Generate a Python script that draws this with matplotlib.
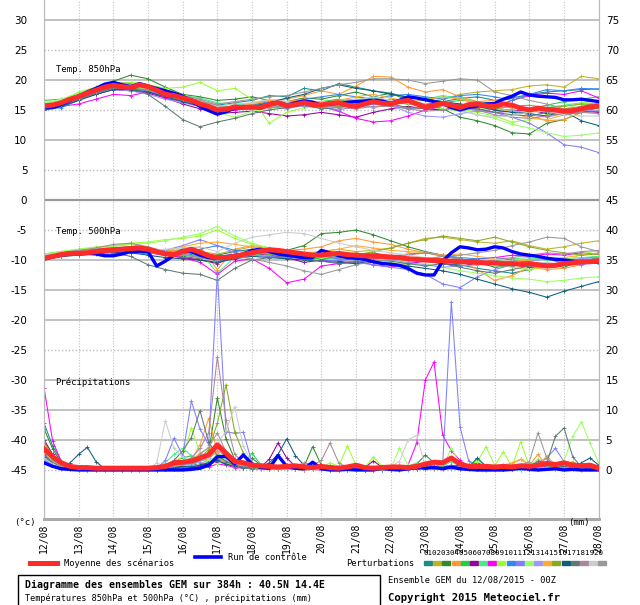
import matplotlib
matplotlib.use("Agg")
import matplotlib.pyplot as plt
from matplotlib.patches import Rectangle
from matplotlib.lines import Line2D
import numpy as np

# -------------------------
# Data (GEM ensemble, 12/08/2015 00Z, 40.5N 14.4E)
# -------------------------
dates = ["12/08", "13/08", "14/08", "15/08", "16/08", "17/08", "18/08", "19/08", "20/08",
         "21/08", "22/08", "23/08", "24/08", "25/08", "26/08", "27/08", "28/08"]
hours6 = np.arange(0, 385, 6)     # mean / control / precip members
hours12 = np.arange(0, 385, 12)   # temperature members

pert_colors = ["#178c8c", "#bdb32a", "#2e8b2e", "#ff9933", "#22cc44", "#990099", "#44ee88",
               "#ff00ff", "#99ff33", "#3388ee", "#7f7fff", "#99ff66", "#9999ff", "#ffaa33",
               "#88aa22", "#0b5e7e", "#607878", "#aa8899", "#cccccc", "#999999"]

# 850 hPa temperature (°C)
t850_mean = [15.7, 15.8, 16.2, 16.8, 17.2, 17.8, 18.3, 18.8, 19.1, 18.9, 18.7, 19.2,
             18.9, 18.3, 17.6, 17.4, 17.0, 16.6, 16.0, 15.6, 15.0, 15.1, 15.5, 15.4,
             15.5, 15.4, 15.9, 16.2, 15.7, 15.9, 16.2, 15.9, 15.8, 16.1, 16.2, 15.8,
             15.6, 16.0, 16.4, 16.1, 16.0, 16.4, 16.6, 16.0, 15.5, 15.8, 16.1, 15.8,
             15.4, 15.9, 16.0, 15.7, 15.6, 16.0, 15.8, 15.3, 15.0, 15.3, 15.1, 15.0,
             14.8, 14.9, 15.2, 15.5, 15.7]
t850_ctrl = [15.5, 15.4, 15.9, 16.6, 17.3, 18.0, 18.6, 19.3, 19.6, 19.2, 18.9, 19.4,
             19.0, 18.6, 18.2, 17.8, 17.3, 16.5, 15.6, 14.9, 14.3, 14.7, 15.3, 15.6,
             15.5, 15.3, 16.0, 16.3, 15.8, 16.2, 16.5, 16.3, 15.8, 16.0, 16.1, 16.3,
             16.4, 16.5, 16.6, 16.5, 16.1, 16.6, 17.2, 17.0, 16.7, 16.4, 16.1, 15.4,
             15.0, 15.4, 15.7, 16.0, 16.1, 16.8, 17.3, 18.0, 17.5, 17.3, 17.2, 17.1,
             16.7, 16.7, 16.8, 16.6, 16.4]
t850_pert = [
    [15.2, 15.8, 17.0, 18.0, 18.8, 18.6, 18.4, 17.6, 16.8, 16.4, 15.8, 16.2, 16.6, 17.4, 17.2, 18.6, 18.2,
     19.4, 18.8, 18.2, 17.8, 17.0, 16.8, 16.4, 16.9, 17.2, 16.6, 17.0, 17.6, 18.0, 18.2, 18.4, 18.5],
    [15.8, 16.4, 17.4, 18.2, 18.8, 18.4, 18.0, 17.2, 16.4, 15.8, 15.2, 15.6, 15.8, 16.2, 16.0, 16.4, 16.2,
     16.6, 16.8, 16.2, 16.4, 16.8, 17.0, 16.8, 17.6, 18.0, 18.2, 18.4, 19.0, 19.2, 18.8, 20.6, 20.2],
    [15.4, 16.2, 17.6, 18.6, 19.8, 20.8, 20.2, 18.8, 17.6, 17.2, 16.6, 16.8, 17.2, 16.6, 16.4, 17.0, 16.8,
     17.4, 18.0, 17.2, 17.8, 16.6, 15.6, 15.2, 13.8, 13.2, 12.4, 11.2, 11.0, 12.8, 13.4, 14.6, 15.4],
    [15.6, 16.4, 17.4, 18.4, 19.2, 19.0, 18.6, 17.8, 17.0, 16.4, 15.6, 15.6, 15.8, 16.6, 16.8, 17.4, 18.2,
     17.6, 19.0, 20.6, 20.5, 18.8, 18.0, 18.4, 17.2, 16.4, 16.6, 15.2, 14.0, 13.2, 13.4, 14.6, 15.8],
    [16.6, 16.8, 17.6, 18.4, 18.8, 18.4, 18.0, 17.4, 16.4, 15.6, 14.8, 15.0, 15.4, 15.8, 15.4, 16.2, 16.4,
     16.8, 15.8, 16.4, 16.8, 16.6, 16.0, 16.2, 16.6, 16.4, 16.0, 15.6, 15.2, 15.8, 16.4, 16.8, 17.2],
    [15.0, 15.6, 16.8, 17.6, 18.4, 18.2, 17.8, 17.0, 16.0, 15.2, 14.4, 14.6, 14.8, 14.4, 14.0, 14.2, 14.6,
     14.2, 13.8, 14.6, 15.2, 15.6, 15.2, 15.0, 15.6, 15.2, 14.6, 14.8, 15.0, 14.4, 14.2, 14.8, 14.6],
    [16.0, 16.6, 17.8, 18.8, 19.4, 19.2, 18.8, 18.0, 17.4, 17.0, 16.2, 15.8, 16.2, 16.6, 16.2, 16.0, 15.4,
     15.8, 16.4, 17.0, 16.6, 16.2, 16.8, 17.4, 17.0, 16.2, 15.4, 14.8, 14.6, 15.4, 15.8, 16.2, 16.0],
    [15.2, 15.6, 16.0, 16.8, 17.6, 17.4, 18.0, 17.0, 16.4, 16.2, 15.6, 15.0, 15.2, 15.8, 16.0, 16.6, 15.6,
     14.8, 13.6, 13.0, 13.2, 14.0, 15.0, 15.6, 16.0, 15.4, 15.6, 16.6, 17.4, 17.8, 17.6, 18.2, 17.0],
    [15.8, 16.6, 18.0, 18.8, 19.4, 19.6, 19.2, 18.6, 18.8, 19.6, 18.2, 18.6, 16.8, 12.8, 14.6, 15.4, 15.8,
     16.2, 16.8, 17.0, 16.4, 16.2, 15.8, 15.6, 15.2, 14.6, 14.0, 13.0, 13.4, 14.2, 15.0, 16.2, 16.6],
    [15.0, 15.4, 16.6, 17.8, 18.6, 18.6, 18.2, 17.4, 16.8, 16.2, 15.4, 15.6, 15.8, 16.4, 16.2, 16.8, 17.2,
     17.6, 17.2, 16.8, 17.4, 17.6, 17.2, 16.8, 17.4, 17.6, 17.2, 16.6, 17.6, 18.4, 18.2, 18.6, 18.5],
    [15.4, 16.2, 17.2, 18.0, 18.6, 18.6, 18.2, 17.2, 16.4, 15.8, 14.6, 15.2, 15.6, 16.0, 15.8, 15.6, 15.4,
     15.0, 15.6, 16.0, 15.8, 15.2, 15.6, 16.0, 15.8, 14.8, 14.6, 13.8, 12.8, 11.2, 9.2, 8.8, 7.9],
    [16.2, 16.8, 17.8, 18.6, 19.4, 19.2, 18.8, 17.8, 17.0, 16.0, 14.6, 13.8, 14.8, 15.2, 15.6, 16.0, 16.4,
     15.8, 15.4, 16.2, 16.6, 16.0, 15.6, 15.2, 14.8, 14.2, 13.6, 12.6, 12.0, 11.2, 10.6, 10.8, 11.2],
    [15.2, 15.8, 16.8, 17.8, 18.4, 18.2, 17.6, 16.8, 16.2, 15.6, 15.0, 15.4, 15.2, 15.6, 15.2, 15.8, 15.4,
     15.6, 16.0, 15.4, 15.8, 14.6, 14.0, 13.8, 14.4, 14.8, 15.2, 15.0, 14.2, 13.8, 14.4, 14.8, 15.0],
    [16.0, 16.4, 17.4, 18.4, 19.0, 19.0, 18.6, 17.8, 17.0, 16.2, 15.4, 15.6, 16.0, 16.6, 16.4, 16.8, 16.2,
     16.6, 17.2, 17.6, 17.0, 16.4, 16.6, 17.2, 16.8, 16.2, 15.6, 14.6, 13.6, 13.4, 14.2, 15.6, 16.2],
    [15.6, 16.2, 17.2, 18.2, 18.8, 18.6, 18.4, 17.6, 16.6, 16.0, 15.4, 15.2, 15.6, 16.0, 15.8, 16.4, 16.0,
     15.6, 15.8, 16.4, 16.2, 16.0, 15.8, 16.2, 16.0, 15.4, 15.2, 15.6, 15.8, 15.4, 15.6, 16.0, 15.8],
    [15.0, 15.6, 16.6, 17.6, 18.4, 18.4, 18.0, 17.2, 16.4, 15.6, 15.0, 15.4, 15.6, 16.2, 17.0, 17.6, 18.6,
     19.2, 18.6, 18.2, 17.6, 17.2, 16.8, 16.4, 16.0, 15.6, 15.0, 14.6, 14.4, 14.0, 14.8, 13.2, 12.4],
    [15.4, 15.8, 16.8, 17.8, 18.6, 18.8, 17.6, 15.6, 13.4, 12.2, 13.0, 13.6, 14.4, 15.0, 15.4, 15.8, 15.2,
     15.4, 16.0, 16.4, 16.0, 15.4, 15.2, 15.6, 15.8, 15.2, 14.6, 14.2, 14.0, 14.6, 14.2, 14.6, 14.8],
    [15.8, 16.4, 17.6, 18.6, 19.6, 19.4, 18.8, 18.0, 17.2, 16.6, 15.8, 15.4, 15.2, 15.4, 15.6, 16.2, 15.8,
     15.4, 15.2, 15.6, 15.6, 15.2, 14.8, 15.0, 15.4, 15.0, 14.2, 13.8, 13.6, 14.0, 14.4, 14.6, 14.4],
    [15.4, 16.0, 17.0, 18.2, 19.0, 19.2, 18.6, 17.8, 16.8, 16.4, 15.6, 16.0, 16.2, 16.8, 16.4, 16.0, 15.6,
     16.2, 16.6, 17.2, 16.6, 16.2, 16.0, 15.6, 15.0, 14.2, 13.8, 14.0, 14.6, 14.8, 14.2, 14.0, 14.0],
    [15.6, 16.2, 17.4, 18.4, 19.2, 19.0, 18.8, 17.8, 17.4, 16.8, 16.0, 16.4, 16.8, 17.2, 17.4, 18.0, 18.6,
     19.2, 19.6, 20.2, 20.2, 20.0, 19.4, 19.8, 20.2, 20.0, 18.0, 17.4, 16.6, 16.0, 15.2, 15.6, 16.0],
]

# 500 hPa temperature (°C)
t500_mean = [-9.7, -9.4, -9.1, -8.9, -8.9, -8.8, -8.6, -8.4, -8.3, -8.2, -8.1, -8.0,
             -8.2, -8.6, -9.0, -9.1, -8.6, -8.2, -8.7, -9.3, -9.6, -9.6, -9.4, -9.1,
             -8.8, -8.5, -8.3, -8.4, -8.6, -8.8, -9.0, -9.2, -9.2, -9.0, -8.9, -9.1,
             -9.2, -9.3, -9.4, -9.4, -9.5, -9.6, -9.8, -9.9, -10.0, -10.1, -10.1, -10.2,
             -10.3, -10.3, -10.4, -10.5, -10.5, -10.6, -10.6, -10.7, -10.6, -10.8, -11.0, -10.9,
             -10.6, -10.5, -10.3, -10.3, -10.1]
t500_ctrl = [-9.8, -9.5, -9.2, -9.0, -9.0, -8.9, -9.0, -9.3, -9.3, -9.0, -8.6, -8.6,
             -8.6, -11.0, -10.2, -9.2, -8.4, -8.6, -9.2, -9.6, -9.7, -9.4, -9.3, -9.0,
             -8.4, -8.2, -8.6, -9.0, -9.2, -9.4, -9.6, -9.6, -8.4, -8.8, -9.3, -9.6,
             -9.7, -9.9, -10.3, -10.6, -10.7, -10.9, -11.4, -12.2, -12.5, -12.5, -10.2, -8.8,
             -7.8, -8.0, -8.3, -8.2, -7.8, -8.0, -8.6, -9.0, -9.2, -9.4, -9.7, -9.9,
             -10.0, -10.2, -10.3, -10.3, -10.3]
t500_pert = [
    [-9.6, -9.0, -8.8, -8.6, -8.2, -7.8, -8.4, -8.6, -8.8, -9.4, -10.2, -9.6, -9.0, -9.4, -9.8, -9.2, -9.0,
     -9.4, -9.2, -8.8, -9.4, -9.8, -10.2, -10.6, -10.8, -11.4, -11.8, -12.2, -11.6, -11.0, -10.4, -9.8, -9.4],
    [-9.4, -8.8, -8.4, -8.0, -7.6, -7.4, -8.0, -8.8, -8.2, -8.6, -9.0, -8.4, -7.8, -8.4, -8.8, -9.0, -8.6,
     -8.2, -8.6, -8.4, -8.0, -7.2, -6.4, -6.2, -6.6, -7.0, -7.2, -6.8, -7.6, -8.2, -7.8, -7.2, -6.8],
    [-10.0, -9.4, -9.2, -8.6, -8.0, -7.8, -8.6, -9.0, -9.4, -9.8, -9.2, -8.6, -8.2, -8.8, -8.4, -7.6, -5.6,
     -5.4, -5.0, -5.8, -6.8, -7.8, -8.6, -9.2, -9.8, -10.4, -11.2, -11.0, -10.6, -10.8, -11.2, -10.2, -9.6],
    [-9.8, -9.2, -8.8, -8.4, -8.2, -8.0, -8.4, -8.6, -8.2, -7.8, -11.6, -8.2, -7.6, -8.0, -8.4, -8.2, -7.8,
     -6.8, -6.4, -7.0, -7.4, -8.2, -8.8, -9.2, -10.0, -11.6, -13.4, -12.6, -11.2, -11.6, -11.4, -10.8, -10.2],
    [-9.0, -8.6, -8.4, -8.2, -8.6, -8.4, -8.2, -8.4, -8.8, -9.0, -9.6, -9.2, -8.8, -9.0, -9.4, -9.6, -9.8,
     -9.6, -9.2, -9.4, -9.6, -9.8, -10.0, -9.4, -9.8, -10.2, -10.6, -10.2, -10.0, -9.6, -9.8, -10.2, -10.0],
    [-9.6, -9.2, -8.6, -8.4, -8.8, -8.6, -8.8, -9.2, -9.6, -10.0, -10.6, -9.4, -9.0, -9.2, -9.6, -10.4, -10.0,
     -10.2, -10.6, -10.4, -10.8, -10.6, -10.2, -10.6, -11.0, -10.6, -10.4, -10.8, -11.2, -11.0, -10.6, -10.6, -10.4],
    [-9.2, -8.8, -8.4, -8.2, -8.0, -8.2, -8.6, -8.8, -8.4, -8.6, -12.2, -9.6, -9.2, -8.8, -9.0, -9.4, -9.2,
     -9.6, -9.8, -9.6, -9.4, -9.8, -10.2, -10.0, -9.8, -10.6, -10.2, -9.8, -9.6, -10.0, -9.8, -9.6, -9.4],
    [-9.4, -8.8, -8.6, -8.2, -8.0, -8.2, -8.6, -9.2, -9.6, -10.4, -12.4, -10.2, -9.8, -11.4, -13.8, -13.2, -11.0,
     -10.6, -10.2, -10.8, -11.2, -10.6, -10.0, -10.4, -10.2, -9.8, -9.6, -9.2, -9.4, -9.0, -9.2, -8.8, -9.0],
    [-9.2, -8.6, -8.2, -7.8, -7.6, -7.2, -7.0, -6.6, -6.4, -6.0, -5.0, -6.4, -7.4, -8.0, -8.6, -9.0, -8.8,
     -9.2, -9.6, -9.2, -9.8, -10.2, -9.6, -9.8, -10.4, -10.2, -10.8, -11.2, -11.6, -11.0, -10.4, -9.0, -8.4],
    [-9.8, -9.2, -9.0, -8.6, -8.4, -8.6, -8.8, -9.0, -8.8, -8.2, -7.6, -8.4, -8.6, -9.0, -9.2, -9.0, -9.4,
     -9.8, -10.0, -9.6, -9.4, -9.0, -8.8, -9.2, -9.6, -9.8, -9.6, -10.0, -10.4, -10.6, -10.8, -10.4, -10.6],
    [-9.6, -9.2, -8.8, -8.8, -8.4, -8.6, -9.0, -8.4, -7.6, -6.6, -7.6, -8.8, -9.2, -9.4, -9.6, -9.8, -10.2,
     -10.0, -10.4, -10.8, -11.2, -11.6, -12.4, -14.0, -14.6, -12.8, -11.6, -10.8, -10.2, -9.8, -10.6, -10.8, -10.2],
    [-9.0, -8.6, -8.2, -8.0, -7.8, -7.4, -7.2, -6.8, -6.2, -5.6, -4.4, -6.0, -7.2, -8.0, -8.8, -9.2, -9.6,
     -9.2, -9.6, -10.0, -10.4, -10.8, -10.6, -11.2, -11.8, -12.2, -12.6, -13.0, -13.2, -13.6, -13.4, -13.0, -12.8],
    [-9.8, -9.4, -9.0, -8.8, -8.6, -8.4, -8.6, -9.0, -9.2, -9.6, -10.0, -9.6, -9.4, -9.2, -9.0, -8.8, -9.0,
     -9.2, -9.4, -9.6, -10.0, -10.4, -10.8, -11.2, -11.0, -10.8, -10.4, -10.6, -10.2, -9.8, -10.0, -9.8, -9.6],
    [-9.4, -9.0, -8.6, -8.4, -8.2, -8.0, -8.2, -8.6, -7.8, -7.2, -7.0, -7.4, -7.8, -8.2, -8.6, -8.8, -8.6,
     -8.2, -7.6, -8.0, -8.4, -8.6, -8.8, -9.2, -9.0, -9.4, -9.8, -10.2, -10.0, -9.8, -9.6, -9.2, -8.8],
    [-9.6, -9.0, -8.6, -8.2, -8.0, -8.4, -8.8, -9.0, -9.2, -9.4, -9.8, -9.2, -8.8, -9.0, -9.2, -9.4, -9.0,
     -8.8, -9.2, -8.6, -8.0, -7.2, -6.6, -6.0, -6.4, -6.8, -6.2, -7.0, -7.8, -8.4, -8.8, -9.2, -9.0],
    [-9.8, -9.4, -9.0, -8.8, -8.6, -8.8, -9.2, -9.6, -9.8, -10.0, -10.4, -9.8, -9.4, -9.6, -9.8, -10.0, -10.2,
     -10.4, -10.6, -10.2, -10.6, -11.0, -11.4, -11.8, -12.4, -13.2, -14.0, -14.8, -15.4, -16.2, -15.2, -14.4, -13.6],
    [-9.6, -9.4, -9.2, -9.0, -8.8, -9.4, -10.8, -11.6, -12.2, -12.4, -13.4, -11.4, -10.0, -9.6, -9.4, -9.8, -10.2,
     -10.6, -10.4, -10.0, -10.2, -10.6, -11.0, -10.6, -11.2, -11.8, -12.2, -11.6, -11.0, -10.8, -10.4, -10.2, -10.0],
    [-9.4, -8.8, -8.4, -8.0, -7.4, -7.2, -7.8, -8.6, -9.0, -9.6, -10.0, -9.4, -9.0, -8.8, -9.0, -9.4, -9.2,
     -9.6, -9.8, -9.4, -9.6, -9.2, -8.8, -9.4, -9.8, -10.4, -10.0, -9.6, -9.2, -8.8, -9.0, -8.6, -8.4],
    [-9.2, -8.8, -8.6, -8.4, -8.2, -8.0, -8.4, -8.2, -8.0, -7.8, -8.6, -7.2, -6.2, -5.8, -5.4, -5.6, -6.4,
     -7.2, -7.8, -8.4, -8.8, -9.2, -9.6, -10.0, -10.4, -10.2, -9.8, -10.2, -10.6, -10.4, -10.8, -10.2, -9.8],
    [-9.8, -9.2, -8.8, -8.4, -8.0, -7.8, -8.2, -8.8, -9.2, -9.4, -9.8, -9.4, -9.8, -10.4, -11.0, -11.8, -12.4,
     -11.6, -10.8, -10.2, -10.0, -9.6, -9.8, -9.4, -9.2, -8.8, -8.4, -7.6, -7.0, -6.2, -6.4, -7.8, -8.6],
]

# Precipitation (mm / 6h)
rr_mean = [3.5, 2.2, 1.2, 0.6, 0.4, 0.4, 0.3, 0.3, 0.3, 0.3, 0.3, 0.3, 0.3, 0.4, 0.6, 1.2,
           1.3, 1.5, 2.0, 2.5, 4.2, 2.8, 1.4, 1.2, 0.8, 0.7, 0.6, 0.5, 0.6, 0.7, 0.5, 0.4,
           0.6, 0.4, 0.3, 0.5, 0.8, 0.4, 0.3, 0.4, 0.5, 0.5, 0.4, 0.6, 1.0, 1.3, 1.2, 2.0,
           1.0, 0.6, 0.6, 0.6, 0.5, 0.6, 0.5, 0.7, 0.6, 0.8, 1.1, 0.9, 1.2, 0.8, 0.7, 0.8, 0.3]
rr_ctrl = [1.2, 0.6, 0.2, 0.1, 0.0, 0.0, 0.0, 0.0, 0.0, 0.0, 0.0, 0.0, 0.0, 0.0, 0.0, 0.0,
           0.0, 0.1, 0.3, 0.8, 2.2, 2.3, 1.0, 2.5, 1.0, 0.4, 0.3, 2.4, 0.6, 0.3, 0.2, 1.3,
           0.2, 0.0, 0.0, 0.1, 0.0, 0.0, 0.0, 0.3, 0.1, 0.0, 0.2, 0.4, 0.3, 0.4, 0.2, 0.5,
           0.2, 0.1, 0.0, 0.0, 0.0, 0.0, 0.1, 0.3, 0.1, 0.0, 0.1, 0.2, 0.0, 0.1, 0.0, 0.0, 0.0]
rr_pert = [
    [7.8, 4.0, 1.5, 0.6, 0.3, 0.2, 0.1, 0, 0, 0, 0, 0, 0, 0, 0.2, 0.5, 0.8, 1.2, 0.6, 1.4, 2.2, 1.6, 0.8, 0.4,
     0.6, 0.3, 0.2, 0.4, 0.8, 0.3, 0.1, 0.2, 0.1, 0.3, 0, 0.1, 0, 0.2, 0, 0, 0, 0.1, 0.2, 0.4, 0.6, 0.3, 0.2, 0.5,
     0.3, 0.8, 1.2, 0.6, 0.2, 0.1, 0.3, 0.4, 0.2, 0.5, 0.8, 0.4, 0.2, 0.1, 0.3, 0.6, 0.2],
    [5.0, 2.6, 0.8, 0.3, 0.1, 0, 0, 0, 0, 0, 0, 0, 0, 0.1, 0.3, 0.6, 1.0, 0.6, 0.9, 1.8, 3.2, 2.4, 1.0, 0.5,
     0.3, 0.2, 0.1, 0.3, 0.2, 0.1, 0, 0.3, 0.2, 0.1, 0, 0.2, 0.1, 0.4, 0.2, 0, 0, 0.2, 0.3, 0.2, 0.4, 0.6, 0.3, 0.2,
     0.1, 0.2, 0.3, 0.1, 0, 0.2, 0.4, 0.3, 0.6, 1.2, 0.5, 0.3, 0.8, 1.4, 0.6, 0.3, 0.1],
    [6.9, 3.5, 1.2, 0.4, 0.2, 0.1, 0, 0, 0, 0, 0, 0, 0, 0.2, 0.4, 0.8, 1.2, 0.9, 1.6, 3.0, 12.0, 5.2, 1.8, 0.9,
     2.0, 0.8, 0.4, 0.3, 0.5, 0.3, 0.6, 3.9, 0.8, 0.3, 0.2, 0.1, 0.3, 0.1, 0, 0.2, 0.4, 0.8, 0.5, 1.0, 2.5, 1.2, 0.6, 0.8,
     0.4, 0.3, 0.2, 0.4, 0.3, 0.5, 0.3, 0.6, 0.3, 0.2, 0.4, 0.3, 0.5, 0.3, 0.2, 0.4, 0.1],
    [4.4, 2.0, 0.6, 0.2, 0.1, 0, 0, 0, 0, 0, 0, 0, 0, 0, 0.2, 0.4, 0.6, 1.6, 4.2, 8.6, 3.0, 1.4, 0.8, 0.5,
     0.4, 0.2, 0.1, 0.3, 0.4, 0.2, 0.1, 0.2, 0.1, 0, 0.1, 0.3, 0.2, 0.1, 0, 0.1, 0.2, 0.4, 0.3, 0.1, 0.3, 0.5, 0.8, 0.4,
     0.2, 0.1, 0.3, 0.5, 0.4, 0.6, 1.0, 1.8, 0.8, 2.6, 0.6, 0.3, 0.4, 0.2, 0.1, 0.3, 0.1],
    [3.8, 2.2, 1.0, 0.4, 0.2, 0, 0, 0, 0, 0, 0, 0, 0, 0.3, 0.8, 1.5, 2.0, 2.4, 1.2, 0.8, 1.6, 2.2, 1.4, 0.9,
     2.8, 0.9, 0.4, 0.3, 0.2, 0.1, 0.3, 0.6, 0.2, 0.1, 0, 0, 0.1, 0.3, 0.2, 0.1, 0, 0.1, 0.2, 0.3, 0.8, 0.4, 0.2, 0.3,
     0.2, 0.5, 0.3, 0.2, 0.3, 0.4, 0.6, 0.5, 0.3, 0.2, 0.5, 0.4, 0.6, 0.3, 0.2, 0.2, 0.1],
    [5.0, 2.6, 0.9, 0.3, 0.1, 0, 0, 0, 0, 0, 0, 0, 0, 0, 0.1, 0.3, 0.5, 0.4, 0.8, 1.0, 1.4, 1.0, 0.6, 0.4,
     0.3, 0.5, 1.8, 4.5, 2.0, 0.6, 0.3, 0.2, 0.3, 0.8, 0.2, 0.1, 0, 0.4, 1.5, 0.5, 0.3, 0.2, 0.4, 0.6, 1.0, 0.6, 0.4, 0.5,
     0.3, 0.2, 0.1, 0.2, 0.1, 0.3, 0.2, 0.4, 0.5, 0.3, 0.6, 0.4, 1.2, 0.6, 0.2, 0.1, 0.1],
    [2.8, 1.4, 0.6, 0.2, 0.1, 0, 0, 0, 0, 0, 0, 0, 0, 0.4, 1.2, 2.6, 3.6, 2.4, 1.8, 1.2, 2.6, 1.8, 1.0, 0.6,
     0.4, 0.3, 0.2, 0.2, 0.3, 0.2, 0.1, 0.3, 0.1, 0, 0.2, 0.1, 0, 0.1, 0, 0.1, 0.3, 0.4, 0.6, 1.2, 0.8, 0.5, 0.6, 1.4,
     0.6, 0.4, 1.8, 0.5, 0.3, 0.2, 0.4, 0.6, 0.4, 0.3, 0.8, 0.5, 0.3, 0.2, 0.4, 0.2, 0.1],
    [13.7, 4.8, 1.4, 0.5, 0.2, 0.1, 0, 0, 0, 0, 0, 0, 0, 0, 0.1, 0.2, 0.4, 0.3, 0.6, 0.5, 1.0, 0.8, 0.4, 0.3,
     0.2, 0.3, 0.1, 0.2, 0.1, 0.2, 0, 0.1, 0, 0.1, 0, 0.2, 0.1, 0, 0.2, 0.1, 0, 0.2, 0.8, 4.5, 15.0, 18.0, 5.8, 3.2,
     1.6, 0.5, 0.3, 0.2, 0.1, 0.2, 0.1, 0.3, 0.2, 0.4, 0.6, 0.8, 0.5, 0.3, 0.2, 0.1, 0],
    [4.0, 2.4, 0.8, 0.3, 0.1, 0, 0, 0, 0, 0, 0, 0, 0, 0.2, 0.6, 1.4, 2.2, 7.0, 2.8, 1.6, 1.8, 2.4, 1.2, 0.8,
     0.6, 0.4, 0.3, 0.5, 0.4, 0.2, 0.3, 0.6, 0.4, 1.2, 0.6, 4.0, 0.8, 0.4, 2.2, 0.6, 0.3, 0.8, 0.4, 0.6, 1.0, 0.6, 0.8, 0.4,
     0.6, 0.9, 1.4, 3.9, 0.8, 3.0, 0.6, 4.7, 0.6, 0.4, 1.2, 0.8, 0.6, 0.4, 0.3, 0.6, 0.8],
    [2.5, 1.2, 0.4, 0.1, 0, 0, 0, 0, 0, 0, 0, 0, 0, 0, 0.1, 0.2, 0.3, 0.6, 0.4, 0.9, 1.8, 1.2, 0.6, 0.3,
     0.2, 0.1, 0.2, 0.4, 0.3, 0.1, 0, 0.2, 0.1, 0, 0, 0.1, 0, 0, 0.1, 0, 0.1, 0, 0.2, 0.3, 0.2, 0.6, 0.4, 0.3,
     0.8, 0.3, 0.1, 0, 0.1, 0.2, 0.1, 0, 0.2, 0.1, 0.3, 0.1, 0.2, 0.1, 0, 0.1, 0],
    [1.8, 0.8, 0.3, 0.1, 0, 0, 0, 0, 0, 0, 0, 0, 0, 0.3, 1.6, 5.3, 2.4, 11.5, 6.8, 4.2, 33.0, 6.4, 6.1, 6.3,
     1.2, 0.6, 0.3, 0.5, 0.6, 0.3, 0.1, 0.2, 0.1, 0, 0, 0.1, 0.2, 0, 0.1, 0.3, 0.2, 0.1, 0, 0.3, 0.4, 0.6, 1.0, 28.0,
     7.2, 1.5, 0.6, 0.3, 0.2, 0.1, 0.3, 0.2, 0.4, 1.0, 2.0, 3.6, 1.4, 0.5, 0.2, 0.1, 0],
    [3.2, 1.6, 0.6, 0.2, 0.1, 0, 0, 0, 0, 0, 0, 0, 0, 0.1, 0.4, 0.8, 1.4, 1.0, 2.2, 1.6, 1.0, 1.8, 0.8, 0.4,
     0.3, 0.2, 0.4, 0.3, 0.2, 0.4, 0.2, 0.3, 0.3, 0.5, 0.2, 0.4, 0.3, 0.2, 0.6, 0.4, 0.2, 3.6, 0.8, 0.4, 0.6, 0.4, 0.5, 3.6,
     1.0, 0.4, 0.3, 0.6, 0.4, 0.8, 0.6, 0.4, 0.8, 1.8, 0.6, 0.4, 1.5, 5.6, 8.0, 4.5, 1.2],
    [1.5, 0.8, 0.2, 0.1, 0, 0, 0, 0, 0, 0, 0, 0, 0, 0, 0.2, 0.5, 1.0, 0.8, 1.4, 2.0, 3.6, 2.0, 1.0, 0.6,
     0.4, 0.6, 0.3, 0.2, 0.3, 0.1, 0.2, 0.1, 0, 0.1, 0, 0, 0.1, 0, 0, 0.2, 0.1, 0.3, 0.2, 0.4, 0.3, 0.2, 0.4, 0.8,
     0.5, 0.2, 0.1, 0.2, 0.3, 0.2, 0.4, 0.3, 0.6, 1.4, 1.8, 0.6, 0.4, 0.2, 0.1, 0.2, 0],
    [3.0, 1.8, 0.6, 0.2, 0.1, 0, 0, 0, 0, 0, 0, 0, 0, 0.1, 0.3, 0.6, 0.9, 1.6, 2.8, 3.6, 2.2, 1.2, 0.6, 0.4,
     0.3, 0.2, 0.1, 0.2, 0.1, 0.2, 0, 0.1, 0.2, 0.4, 0.1, 0, 0.1, 0.2, 0.4, 0.1, 0.2, 0.3, 0.1, 0.2, 0.4, 0.2, 0.3, 0.6,
     0.3, 0.4, 0.6, 0.4, 0.5, 0.8, 1.2, 1.8, 1.0, 0.6, 2.4, 0.8, 0.4, 0.3, 0.2, 0.2, 0.1],
    [4.6, 2.4, 0.9, 0.3, 0.1, 0, 0, 0, 0, 0, 0, 0, 0, 0.2, 0.5, 0.9, 1.4, 1.2, 2.0, 3.4, 7.8, 14.2, 6.4, 2.8,
     1.0, 0.5, 0.3, 0.2, 0.3, 0.2, 0.1, 0.2, 0.1, 0.3, 0.2, 0.1, 0.2, 0.1, 0.3, 0.2, 0.1, 0.2, 0.3, 0.5, 0.6, 0.4, 0.3, 0.5,
     0.3, 0.2, 0.4, 0.3, 0.2, 0.4, 0.3, 0.6, 0.4, 0.3, 0.9, 0.4, 0.6, 0.3, 0.2, 0.1, 0.1],
    [2.2, 1.0, 0.5, 1.2, 2.6, 3.8, 1.4, 0.2, 0, 0, 0, 0, 0, 0.1, 0.2, 0.4, 0.6, 0.5, 0.8, 1.2, 1.6, 1.0, 0.6, 0.4,
     0.3, 0.5, 1.2, 2.6, 5.2, 2.4, 0.8, 0.4, 0.3, 0.2, 0.1, 0.2, 0.1, 0, 0.2, 0.1, 0.2, 0.1, 0.3, 0.2, 0.4, 0.3, 0.5, 0.6,
     0.8, 0.5, 2.0, 0.6, 0.3, 0.2, 0.4, 0.3, 0.4, 0.3, 0.5, 0.4, 0.6, 0.4, 1.2, 2.0, 0.8],
    [2.6, 1.2, 0.4, 0.1, 0, 0, 0, 0, 0, 0, 0, 0, 0, 0.2, 0.6, 1.6, 3.2, 5.4, 9.9, 4.6, 2.4, 1.4, 0.8, 0.5,
     0.4, 0.3, 0.2, 0.3, 0.4, 0.2, 0.1, 0.2, 0.1, 0.2, 0.1, 0, 0.2, 0.1, 0, 0.1, 0.2, 0.4, 0.3, 0.6, 1.0, 0.6, 0.4, 0.3,
     0.2, 0.3, 0.5, 0.4, 0.3, 0.2, 0.6, 0.4, 0.5, 1.5, 1.2, 5.6, 7.0, 2.2, 0.5, 0.3, 0.2],
    [3.4, 1.8, 0.6, 0.2, 0.1, 0, 0, 0, 0, 0, 0, 0, 0, 0.1, 0.3, 0.6, 1.2, 2.0, 3.6, 6.2, 18.9, 8.4, 2.6, 1.2,
     0.6, 0.4, 0.3, 0.2, 0.4, 0.6, 1.2, 0.8, 1.6, 4.5, 1.2, 0.4, 0.2, 0.1, 0.3, 0.2, 0.2, 0.1, 0.4, 0.3, 0.5, 0.4, 0.3, 0.6,
     0.4, 0.3, 0.2, 0.4, 0.3, 0.5, 0.4, 0.2, 0.6, 0.4, 0.3, 0.5, 0.8, 0.4, 0.3, 0.2, 0.1],
    [2.0, 1.0, 0.4, 0.1, 0, 0, 0, 0, 0, 0, 0, 0, 0, 1.2, 8.2, 3.6, 2.2, 1.6, 2.4, 1.8, 4.2, 6.6, 10.5, 4.0,
     1.2, 0.6, 0.4, 0.3, 0.4, 0.3, 0.2, 0.1, 0.1, 0.3, 0.2, 0.1, 0, 0.2, 0.1, 0.3, 0.6, 1.4, 5.0, 5.8, 0.5, 0.3, 0.2, 0.4,
     0.3, 0.2, 0.4, 0.3, 0.2, 0.3, 0.4, 0.2, 0.5, 0.3, 0.4, 0.3, 0.2, 0.1, 0.3, 0.2, 0.1],
    [3.6, 1.6, 0.5, 0.2, 0, 0, 0, 0, 0, 0, 0, 0, 0, 0.1, 0.4, 0.8, 1.0, 1.4, 2.6, 3.8, 6.2, 3.0, 1.4, 0.8,
     0.5, 0.3, 0.2, 0.4, 0.3, 0.2, 0.1, 0.3, 0.2, 0.3, 0.1, 0.2, 0.3, 0.2, 0.1, 0.4, 0.5, 0.3, 0.2, 0.4, 0.3, 0.2, 0.4, 0.3,
     0.2, 0.4, 0.3, 0.2, 0.3, 0.4, 0.6, 0.8, 1.4, 6.2, 2.0, 0.6, 0.4, 0.6, 0.3, 0.2, 0.1],
]

# -------------------------
# Figure
# -------------------------
W, H = 640, 605
fig = plt.figure(figsize=(W / 100, H / 100), dpi=100)
mono = "DejaVu Sans Mono"


def fx(px):
    return px / W


def fy(py):
    return 1 - py / H


ax = fig.add_axes([fx(44), fy(519), fx(598.7) - fx(44), fy(0) - fy(519)])
ax.set_xlim(0, 384)
ax.set_ylim(-53.17, 33.33)
ax2 = ax.twinx()
ax2.set_ylim(-53.17 + 45, 33.33 + 45)

# grid
for d in range(17):
    ax.axvline(d * 24, color="#c4c4c4", lw=0.8, ls=(0, (1, 1.5)), zorder=0)
solid_lines = [30, 20, 10, -10, -15, -20, -30, -35, -40]
dotted_lines = [25, 15, 5, -5, -25, -45]
for v in solid_lines:
    ax.axhline(v, color="#bcbcbc", lw=1.3, zorder=0)
for v in dotted_lines:
    ax.axhline(v, color="#bcbcbc", lw=1.0, ls=(0, (1, 1.5)), zorder=0)
ax.axhline(0, color="#999999", lw=1.6, zorder=0)

for s in ["top"]:
    ax.spines[s].set_visible(False)
    ax2.spines[s].set_visible(False)
for a in (ax, ax2):
    a.spines["bottom"].set_color("#aaaaaa")
    a.spines["bottom"].set_linewidth(2)
    a.spines["left"].set_color("#bbbbbb")
    a.spines["right"].set_color("#bbbbbb")

pert_kw = dict(lw=0.75, marker="+", ms=2.5, mew=0.6, zorder=2)

# 850 hPa
for vals, c in zip(t850_pert, pert_colors):
    ax.plot(hours12, vals, color=c, **pert_kw)
ax.plot(hours6, t850_ctrl, color="#0000ff", lw=2.4, zorder=4)
ax.plot(hours6, t850_mean, color="#ff2a2a", lw=3.6, zorder=5)

# 500 hPa
for vals, c in zip(t500_pert, pert_colors):
    ax.plot(hours12, vals, color=c, **pert_kw)
ax.plot(hours6, t500_ctrl, color="#0000ff", lw=2.4, zorder=4)
ax.plot(hours6, t500_mean, color="#ff2a2a", lw=3.6, zorder=5)

# precipitation on the mm axis
for vals, c in zip(rr_pert, pert_colors):
    ax2.plot(hours6, vals, color=c, **pert_kw)
ax2.plot(hours6, rr_ctrl, color="#0000ff", lw=2.4, zorder=4)
ax2.plot(hours6, rr_mean, color="#ff2a2a", lw=3.6, zorder=5)

# ticks
ax.set_xticks(np.arange(0, 385, 24))
ax.set_xticklabels(dates, rotation=90, family=mono, fontsize=7)
ax.tick_params(axis="x", length=0, pad=3)
ax.set_yticks(np.arange(-45, 31, 5))
ax.set_yticklabels([str(v) for v in range(-45, 31, 5)], fontsize=7.5)
ax.tick_params(axis="y", length=0, pad=12)
ax2.set_yticks(np.arange(0, 76, 5))
ax2.set_yticklabels([str(v) for v in range(0, 76, 5)], fontsize=7.5)
ax2.tick_params(axis="y", length=0, pad=5)

# panel labels
ax.text(8, 21.7, "Temp. 850hPa", family=mono, fontsize=6.5, va="center")
ax.text(8, -5.2, "Temp. 500hPa", family=mono, fontsize=6.5, va="center")
ax.text(8, -30.3, "Précipitations", family=mono, fontsize=6.5, va="center")

fig.text(fx(14), fy(522), "(°c)", family=mono, fontsize=6.5, va="center")
fig.text(fx(568), fy(522), "(mm)", family=mono, fontsize=6.5, va="center")

# legend
fig.add_artist(Line2D([fx(30), fx(57)], [fy(563), fy(563)], color="#ff2a2a", lw=3.6))
fig.text(fx(64), fy(563), "Moyenne des scénarios", family=mono, fontsize=6.3, va="center")
fig.add_artist(Line2D([fx(195), fx(221)], [fy(557), fy(557)], color="#0000ff", lw=2.6))
fig.text(fx(228), fy(557), "Run de contrôle", family=mono, fontsize=6.3, va="center")
fig.text(fx(346), fy(563), "Perturbations", family=mono, fontsize=6.3, va="center")
for i, c in enumerate(pert_colors):
    x0 = 424 + i * 9.17
    fig.add_artist(Rectangle((fx(x0), fy(565)), fx(8), 4 / H, color=c, transform=fig.transFigure))
member_ids = "".join("%02d" % (i + 1) for i in range(len(pert_colors)))
fig.text(fx(423), fy(553), member_ids, family=mono, fontsize=5.4, va="center")

# title box
fig.add_artist(Rectangle((fx(18), fy(606)), fx(362), 31 / H, fill=False, ec="black", lw=1,
                         transform=fig.transFigure))
fig.text(fx(25), fy(585), "Diagramme des ensembles GEM sur 384h : 40.5N 14.4E", family=mono,
         fontsize=7.1, fontweight="bold", va="center")
fig.text(fx(25), fy(598), "Températures 850hPa et 500hPa (°C) , précipitations (mm)", family=mono,
         fontsize=6.1, va="center")
fig.text(fx(388), fy(580), "Ensemble GEM du 12/08/2015 - 00Z", family=mono, fontsize=6.2, va="center")
fig.text(fx(388), fy(598), "Copyright 2015 Meteociel.fr", family=mono, fontsize=7.6,
         fontweight="bold", va="center")

fig.savefig("out.png", dpi=100)
